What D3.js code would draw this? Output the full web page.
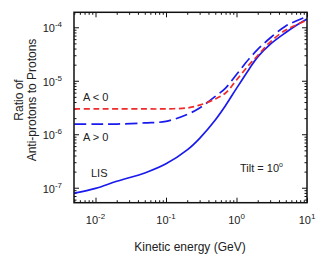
<!DOCTYPE html>
<html>
<head>
<meta charset="utf-8">
<script src="https://cdn.jsdelivr.net/npm/d3@7"></script>
<style>
  body { margin: 0; background: #fff; }
  text { font-family: "Liberation Sans", Arial, sans-serif; fill: #222; }
</style>
</head>
<body>
<div id="chart-area"></div>
<script>
// kinetic energy (GeV) sample points
var energy = [0.005, 0.01, 0.02, 0.05, 0.1, 0.2, 0.3, 0.5, 0.7, 1, 1.5, 2, 3, 5, 7, 10];
// ratio of anti-protons to protons
var lis    = [7.9e-8, 9.7e-8, 1.32e-7, 1.89e-7, 2.8e-7, 5.1e-7, 8.4e-7, 1.85e-6, 3.45e-6, 7.2e-6, 1.63e-5, 2.8e-5, 4.8e-5, 8.0e-5, 1.08e-4, 1.43e-4];
var aPos   = [1.54e-6, 1.54e-6, 1.55e-6, 1.63e-6, 1.74e-6, 2.35e-6, 3.1e-6, 5.1e-6, 7.3e-6, 1.31e-5, 2.55e-5, 3.85e-5, 6.3e-5, 1.06e-4, 1.31e-4, 1.6e-4];
var aNeg   = [2.97e-6, 2.97e-6, 2.97e-6, 2.97e-6, 2.98e-6, 3.1e-6, 3.5e-6, 4.57e-6, 5.9e-6, 1.03e-5, 1.97e-5, 2.97e-5, 5.3e-5, 8.9e-5, 1.1e-4, 1.37e-4];

var xTickExp = [-2, -1, 0, 1];
var yTickExp = [-7, -6, -5, -4];

var W = 328, H = 272;
var pLeft = 74, pRight = 307, pTop = 12.3, pBottom = 202.7;

var svg = d3.select("#chart-area").append("svg")
    .attr("width", W)
    .attr("height", H);

var x = d3.scaleLog()
    .domain([Math.pow(10, -2.305), 10])
    .range([pLeft, pRight]);

var y = d3.scaleLog()
    .domain([Math.pow(10, -7.28), Math.pow(10, -3.72)])
    .range([pBottom, pTop]);

// minor tick values 2..9 per decade
function minors(lo, hi) {
    var out = [];
    for (var e = lo; e <= hi; e++) {
        for (var m = 2; m <= 9; m++) out.push(m * Math.pow(10, e));
    }
    return out;
}
var xMinor = minors(-3, 0).filter(function (v) { return v > x.domain()[0] && v < x.domain()[1]; });
var yMinor = minors(-8, -4).filter(function (v) { return v > y.domain()[0] && v < y.domain()[1]; });
var xMajor = xTickExp.map(function (e) { return Math.pow(10, e); });
var yMajor = yTickExp.map(function (e) { return Math.pow(10, e); });

function tickAxis(axis, pos, vals, size) {
    var g = svg.append("g")
        .attr("transform", pos)
        .call(axis.tickValues(vals).tickSize(-size).tickFormat(""));
    g.select(".domain").remove();
    g.selectAll("line").attr("stroke", "#111").attr("stroke-width", 1);
    return g;
}

// ticks on all four sides, pointing inward
tickAxis(d3.axisBottom(x), "translate(0," + pBottom + ")", xMajor, 5);
tickAxis(d3.axisBottom(x), "translate(0," + pBottom + ")", xMinor, 2.5);
tickAxis(d3.axisTop(x), "translate(0," + pTop + ")", xMajor, 5);
tickAxis(d3.axisTop(x), "translate(0," + pTop + ")", xMinor, 2.5);
tickAxis(d3.axisLeft(y), "translate(" + pLeft + ",0)", yMajor, 5);
tickAxis(d3.axisLeft(y), "translate(" + pLeft + ",0)", yMinor, 2.5);
tickAxis(d3.axisRight(y), "translate(" + pRight + ",0)", yMajor, 5);
tickAxis(d3.axisRight(y), "translate(" + pRight + ",0)", yMinor, 2.5);

// power-of-ten labels
function powLabel(sel, exp) {
    sel.append("tspan").text("10");
    sel.append("tspan")
        .attr("dy", -5)
        .attr("font-size", "8px")
        .text(exp);
}

xTickExp.forEach(function (e) {
    var t = svg.append("text")
        .attr("x", x(Math.pow(10, e)))
        .attr("y", 224)
        .attr("font-size", "11px")
        .attr("text-anchor", "middle");
    powLabel(t, e);
});

yTickExp.forEach(function (e) {
    var t = svg.append("text")
        .attr("x", 62)
        .attr("y", y(Math.pow(10, e)) + 5)
        .attr("font-size", "11px")
        .attr("text-anchor", "end");
    powLabel(t, e);
});

// curves
var line = d3.line()
    .x(function (d) { return x(d[0]); })
    .y(function (d) { return y(d[1]); })
    .curve(d3.curveCatmullRom.alpha(0.5));

function zip(vals) {
    return energy.map(function (e, i) { return [e, vals[i]]; });
}

svg.append("clipPath").attr("id", "clip")
    .append("rect")
    .attr("x", pLeft).attr("y", pTop)
    .attr("width", pRight - pLeft).attr("height", pBottom - pTop);

var plot = svg.append("g").attr("clip-path", "url(#clip)");

plot.append("path")
    .attr("d", line(zip(lis)))
    .attr("fill", "none")
    .attr("stroke", "#1a1aee")
    .attr("stroke-width", 1.7);

plot.append("path")
    .attr("d", line(zip(aPos)))
    .attr("fill", "none")
    .attr("stroke", "#1a1aee")
    .attr("stroke-width", 1.7)
    .attr("stroke-dasharray", "12,5");

plot.append("path")
    .attr("d", line(zip(aNeg)))
    .attr("fill", "none")
    .attr("stroke", "#ee2a2a")
    .attr("stroke-width", 1.7)
    .attr("stroke-dasharray", "6,3.5");

// frame
svg.append("rect")
    .attr("x", pLeft).attr("y", pTop)
    .attr("width", pRight - pLeft).attr("height", pBottom - pTop)
    .attr("fill", "none")
    .attr("stroke", "#111")
    .attr("stroke-width", 1.5);

// annotations
svg.append("text").attr("x", 83).attr("y", 101).attr("font-size", "11px").text("A < 0");
svg.append("text").attr("x", 83).attr("y", 141).attr("font-size", "11px").text("A > 0");
svg.append("text").attr("x", 91).attr("y", 177).attr("font-size", "11px").text("LIS");

var tilt = svg.append("text").attr("x", 240).attr("y", 172).attr("font-size", "11px");
tilt.append("tspan").text("Tilt = 10");
tilt.append("tspan").attr("dy", -5).attr("font-size", "7px").text("o");

// axis titles
svg.append("text")
    .attr("x", 190)
    .attr("y", 251)
    .attr("font-size", "12px")
    .attr("text-anchor", "middle")
    .text("Kinetic energy (GeV)");

svg.append("text")
    .attr("transform", "translate(23,100) rotate(-90)")
    .attr("font-size", "12px")
    .attr("text-anchor", "middle")
    .text("Ratio of");

svg.append("text")
    .attr("transform", "translate(36,100) rotate(-90)")
    .attr("font-size", "12px")
    .attr("text-anchor", "middle")
    .text("Anti-protons to Protons");
</script>
</body>
</html>
